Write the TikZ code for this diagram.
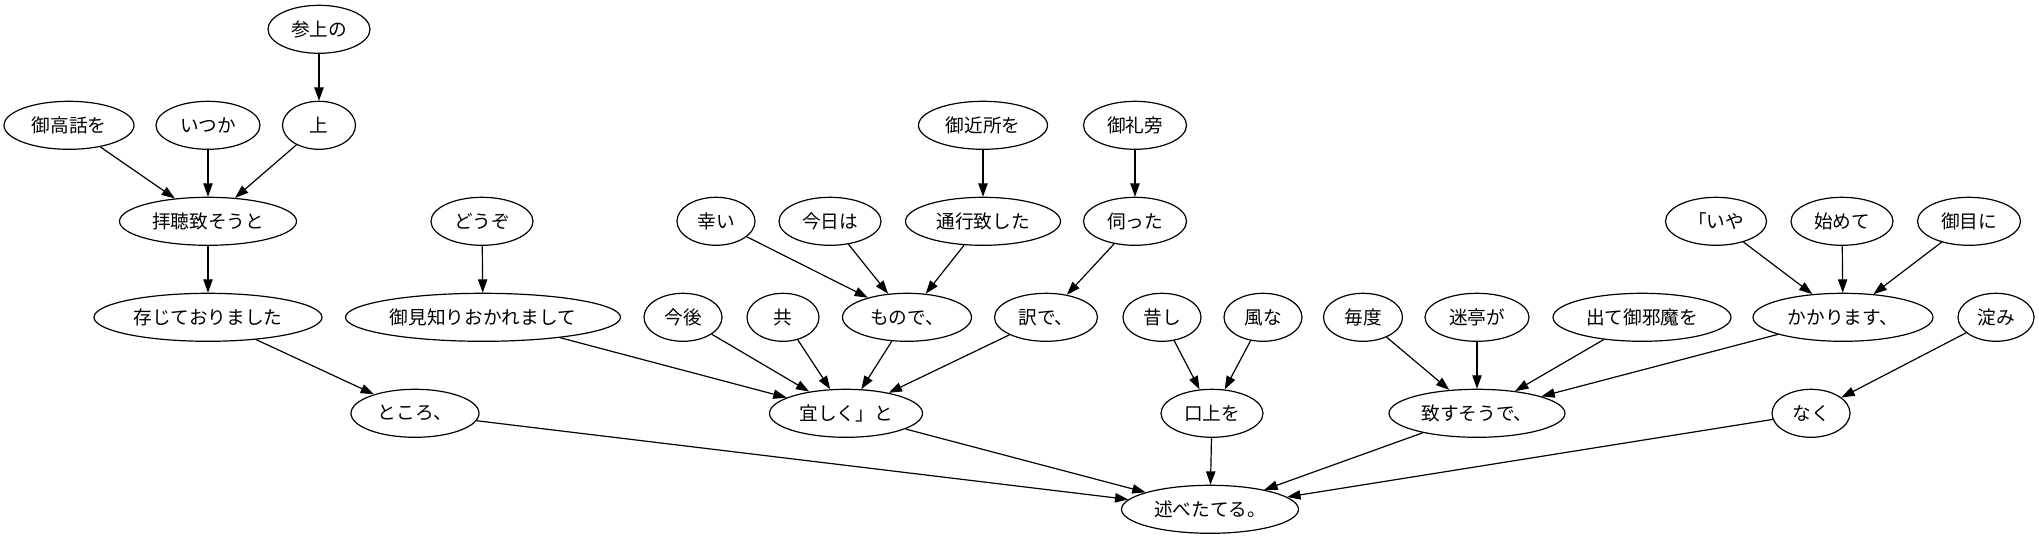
\documentclass[tikz,border=0pt]{standalone}
\usepackage{fontspec}
\setmainfont{Noto Sans CJK JP}
\usetikzlibrary{shapes.geometric,arrows.meta}
\tikzset{
  word/.style={ellipse,draw,line width=0.9pt,inner sep=0pt,minimum height=36pt,
    font=\fontsize{14pt}{16pt}\selectfont},
  wd/.style={minimum width=#1*0.75pt},
  dep/.style={draw,line width=0.9pt,-{Triangle[length=10pt,width=7pt]}}
}
\begin{document}
\begin{tikzpicture}[x=0.75pt,y=-0.75pt]
\useasboundingbox (0,0) rectangle (2039,539);
% row 0
\node[word,wd=102] (sanjou) at (319,29.3) {参上の};
% row 1
\node[word,wd=130] (gokouwa) at (69,125.3) {御高話を};
\node[word,wd=104] (itsuka) at (208,125.3) {いつか};
\node[word,wd=73] (ue) at (319,125.3) {上};
\node[word,wd=129] (gokinjo) at (983,125.3) {御近所を};
\node[word,wd=103] (goreibo) at (1135,125.3) {御礼旁};
% row 2
\node[word,wd=177] (haichou) at (208,221.3) {拝聴致そうと};
\node[word,wd=102] (douzo) at (482,221.3) {どうぞ};
\node[word,wd=78] (saiwai) at (716,221.3) {幸い};
\node[word,wd=102] (kyouha) at (830,221.3) {今日は};
\node[word,wd=155] (tsuukou) at (983,221.3) {通行致した};
\node[word,wd=103] (ukagatta) at (1135,221.3) {伺った};
\node[word,wd=101] (iya) at (1716,221.3) {「いや};
\node[word,wd=102] (hajimete) at (1842,221.3) {始めて};
\node[word,wd=103] (onmeni) at (1969,221.3) {御目に};
% row 3
\node[word,wd=228] (zonji) at (208,317.3) {存じておりました};
\node[word,wd=275] (gomishiri) at (483,317.3) {御見知りおかれまして};
\node[word,wd=78] (kongo) at (683,317.3) {今後};
\node[word,wd=72] (tomo) at (783,317.3) {共};
\node[word,wd=129] (monode) at (907,317.3) {もので、};
\node[word,wd=103] (wakede) at (1046,317.3) {訳で、};
\node[word,wd=78] (mukashi) at (1162,317.3) {昔し};
\node[word,wd=78] (fuuna) at (1263,317.3) {風な};
\node[word,wd=79] (maido) at (1363,317.3) {毎度};
\node[word,wd=104] (meitei) at (1477,317.3) {迷亭が};
\node[word,wd=178] (dete) at (1642,317.3) {出て御邪魔を};
\node[word,wd=180] (kakari) at (1843,317.3) {かかります、};
\node[word,wd=76] (yodomi) at (1996,317.3) {淀み};
% row 4
\node[word,wd=128] (tokoro) at (415,413.3) {ところ、};
\node[word,wd=153] (yoroshiku) at (846,413.3) {宜しく」と};
\node[word,wd=102] (koujou) at (1212,413.3) {口上を};
\node[word,wd=176] (itasu) at (1477,413.3) {致すそうで、};
\node[word,wd=78] (naku) at (1811,413.3) {なく};
% row 5
\node[word,wd=177] (nobe) at (1210,509.3) {述べたてる。};
% edges
\draw[dep] (sanjou) -- (ue);
\draw[dep] (gokouwa) -- (haichou);
\draw[dep] (itsuka) -- (haichou);
\draw[dep] (ue) -- (haichou);
\draw[dep] (haichou) -- (zonji);
\draw[dep] (zonji) -- (tokoro);
\draw[dep] (tokoro) -- (nobe);
\draw[dep] (douzo) -- (gomishiri);
\draw[dep] (gomishiri) -- (yoroshiku);
\draw[dep] (kongo) -- (yoroshiku);
\draw[dep] (tomo) -- (yoroshiku);
\draw[dep] (monode) -- (yoroshiku);
\draw[dep] (wakede) -- (yoroshiku);
\draw[dep] (saiwai) -- (monode);
\draw[dep] (kyouha) -- (monode);
\draw[dep] (tsuukou) -- (monode);
\draw[dep] (gokinjo) -- (tsuukou);
\draw[dep] (goreibo) -- (ukagatta);
\draw[dep] (ukagatta) -- (wakede);
\draw[dep] (yoroshiku) -- (nobe);
\draw[dep] (mukashi) -- (koujou);
\draw[dep] (fuuna) -- (koujou);
\draw[dep] (koujou) -- (nobe);
\draw[dep] (maido) -- (itasu);
\draw[dep] (meitei) -- (itasu);
\draw[dep] (dete) -- (itasu);
\draw[dep] (kakari) -- (itasu);
\draw[dep] (iya) -- (kakari);
\draw[dep] (hajimete) -- (kakari);
\draw[dep] (onmeni) -- (kakari);
\draw[dep] (itasu) -- (nobe);
\draw[dep] (yodomi) -- (naku);
\draw[dep] (naku) -- (nobe);
\end{tikzpicture}
\end{document}
